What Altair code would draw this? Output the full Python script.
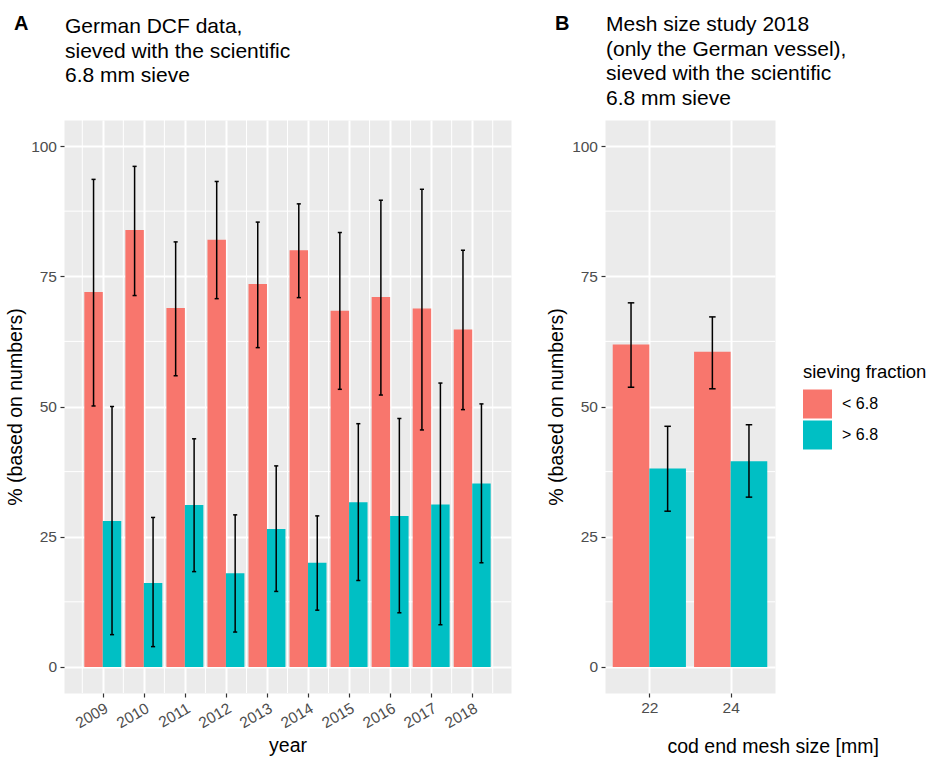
import altair as alt
import pandas as pd

FONT = "Liberation Sans"
RED, TEAL = "#F8766D", "#00BFC4"

# ---- Panel A data (German DCF data) ----
years = [2009, 2010, 2011, 2012, 2013, 2014, 2015, 2016, 2017, 2018]
a_lt = [72.0, 83.9, 68.9, 82.0, 73.5, 80.0, 68.4, 71.0, 68.8, 64.8]
a_lt_lo = [50.1, 71.3, 55.9, 70.7, 61.3, 70.9, 53.3, 52.2, 45.5, 49.4]
a_lt_hi = [93.6, 96.1, 81.6, 93.2, 85.4, 88.9, 83.4, 89.6, 91.7, 80.0]
a_gt = [28.0, 16.1, 31.1, 18.0, 26.5, 20.0, 31.6, 29.0, 31.2, 35.2]
a_gt_lo = [6.2, 3.9, 18.3, 6.7, 14.5, 10.9, 16.6, 10.4, 8.1, 20.0]
a_gt_hi = [50.0, 28.7, 43.8, 29.2, 38.6, 29.0, 46.7, 47.7, 54.5, 50.5]

# ---- Panel B data (mesh size study 2018) ----
mesh = [22, 24]
b_lt = [61.9, 60.5]
b_lt_lo = [53.7, 53.4]
b_lt_hi = [69.9, 67.2]
b_gt = [38.1, 39.5]
b_gt_lo = [29.9, 32.6]
b_gt_hi = [46.2, 46.5]

fractions = ["< 6.8", "> 6.8"]
y_ticks = [0, 25, 50, 75, 100]
y_minor = [12.5, 37.5, 62.5, 87.5]
a_minor_x = [2008.5 + i for i in range(11)]

title_a = "German DCF data,\nsieved with the scientific\n6.8 mm sieve"
title_b = "Mesh size study 2018\n(only the German vessel),\nsieved with the scientific\n6.8 mm sieve"


def make_df(pos, lt, lt_lo, lt_hi, gt, gt_lo, gt_hi):
    rows = []
    for i, p in enumerate(pos):
        rows.append(dict(pos=p, fraction=fractions[0], value=lt[i], lo=lt_lo[i], hi=lt_hi[i], side=-1))
        rows.append(dict(pos=p, fraction=fractions[1], value=gt[i], lo=gt_lo[i], hi=gt_hi[i], side=0))
    return pd.DataFrame(rows)


def panel(df, half, cap, xdomain, xvalues, xtitle, xaxis_kw, minor_x, title, title_y, tag, width):
    xs = alt.Scale(domain=xdomain, nice=False, zero=False)
    ys = alt.Scale(domain=[-5, 105], nice=False, zero=False)
    xax = alt.Axis(values=xvalues, format="d", title=xtitle, **xaxis_kw)
    yax = alt.Axis(values=y_ticks, title="% (based on numbers)")
    base = alt.Chart(df).transform_calculate(
        x0=f"datum.pos + datum.side*{half}",
    ).transform_calculate(
        x1=f"datum.x0 + {half}",
        xc=f"datum.x0 + {half / 2}",
    ).transform_calculate(
        cl=f"datum.xc - {cap / 2}",
        cr=f"datum.xc + {cap / 2}",
    )
    layers = []
    if minor_x:
        layers.append(
            alt.Chart(pd.DataFrame({"m": minor_x})).mark_rule(color="white", strokeWidth=1)
            .encode(x=alt.X("m:Q", scale=xs, axis=xax))
        )
    layers.append(
        alt.Chart(pd.DataFrame({"m": y_minor})).mark_rule(color="white", strokeWidth=1)
        .encode(y=alt.Y("m:Q", scale=ys, axis=yax))
    )
    bars = base.mark_bar().encode(
        x=alt.X("x0:Q", scale=xs, axis=xax),
        x2="x1:Q",
        y=alt.Y("value:Q", scale=ys, axis=yax),
        y2=alt.datum(0),
        color=alt.Color("fraction:N", scale=alt.Scale(domain=fractions, range=[RED, TEAL]),
                        legend=alt.Legend(title="sieving fraction", orient="none",
                                          legendX=739, legendY=243)),
    )
    layers.append(bars)
    layers.append(
        base.mark_rule(color="black", strokeWidth=1.5).encode(
            x=alt.X("xc:Q", scale=xs, axis=xax),
            y=alt.Y("lo:Q", scale=ys, axis=yax),
            y2="hi:Q",
        )
    )
    for f in ["lo", "hi"]:
        layers.append(
            base.mark_rule(color="black", strokeWidth=1.5).encode(
                x=alt.X("cl:Q", scale=xs, axis=xax),
                x2="cr:Q",
                y=alt.Y(f"{f}:Q", scale=ys, axis=yax),
            )
        )
    layers.append(
        alt.Chart(pd.DataFrame({"t": [title]})).mark_text(
            align="left", baseline="top", fontSize=21, lineHeight=24.5, lineBreak="\n", font=FONT, color="black"
        ).encode(text="t:N", x=alt.value(1), y=alt.value(title_y))
    )
    layers.append(
        alt.Chart(pd.DataFrame({"t": [tag]})).mark_text(
            align="left", baseline="top", fontSize=20, fontWeight="bold", font=FONT, color="black"
        ).encode(text="t:N", x=alt.value(-50), y=alt.value(-106))
    )
    return alt.layer(*layers).properties(width=width, height=573)


df_a = make_df(years, a_lt, a_lt_lo, a_lt_hi, a_gt, a_gt_lo, a_gt_hi)
df_b = make_df(mesh, b_lt, b_lt_lo, b_lt_hi, b_gt, b_gt_lo, b_gt_hi)

chart_a = panel(df_a, 0.45, 0.1, [2008.055, 2018.945], years, "year",
                dict(labelAngle=330, labelAlign="right", labelBaseline="top", titlePadding=5),
                a_minor_x, title_a, -104, "A", 447)
chart_b = panel(df_b, 0.9, 0.16, [20.91, 25.09], mesh, "cod end mesh size [mm]",
                dict(labelAngle=0, titlePadding=21, titleX=62, titleAlign="left", titleAnchor="start"),
                None, title_b, -106, "B", 170)

chart = alt.hconcat(chart_a, chart_b, spacing=34).properties(
    padding={"left": 5, "top": 13, "right": 5, "bottom": 2}
).configure_view(
    fill="#EBEBEB", stroke="transparent"
).configure_axis(
    labelFont=FONT, labelFontSize=15.5, labelColor="#4D4D4D", labelPadding=3.5,
    tickColor="#333333", tickSize=4, tickWidth=1.2,
    domain=False, gridColor="white", gridWidth=2,
    titleFont=FONT, titleFontSize=19.5, titleFontWeight="normal", titleColor="black",
).configure_axisY(titlePadding=5).configure_legend(
    titleFont=FONT, titleFontSize=18.5, titleFontWeight="normal", titleColor="black",
    labelFont=FONT, labelFontSize=16, labelColor="black",
    symbolType="square", symbolSize=841, symbolStrokeWidth=0, symbolOpacity=1,
    rowPadding=2, labelOffset=10, titlePadding=8,
)

chart.save("out.html", embed_options={"renderer": "svg", "actions": False})
